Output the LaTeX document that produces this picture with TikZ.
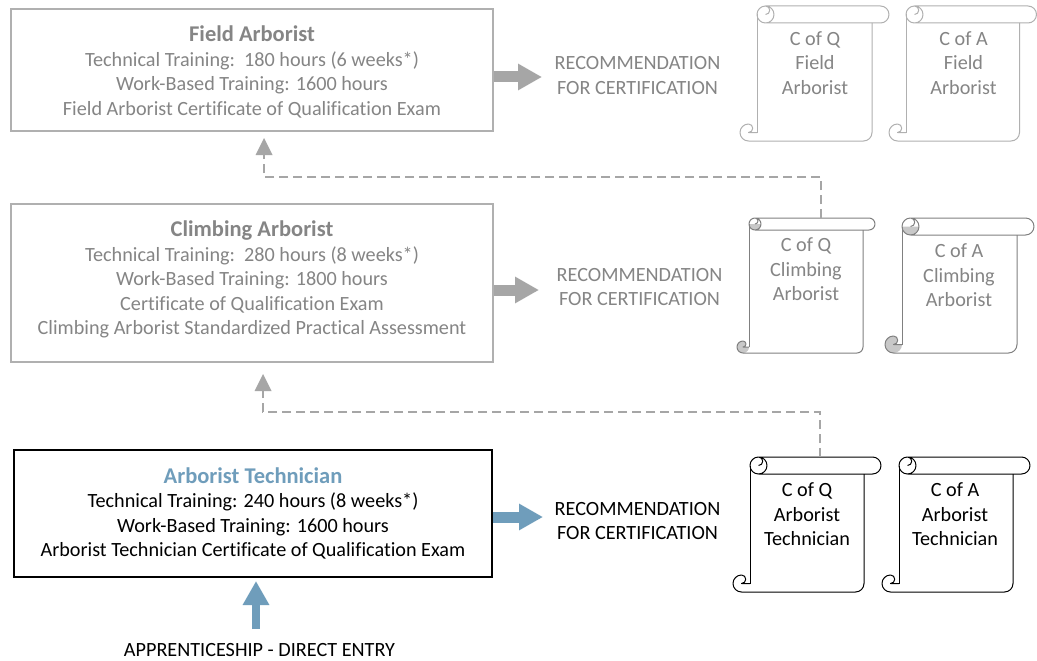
\documentclass[tikz,border=0pt]{standalone}
\usepackage{fontspec}
\setmainfont[Ligatures=NoCommon]{Carlito}
\usetikzlibrary{arrows.meta}
\definecolor{fieldline}{HTML}{B0B0B0}
\definecolor{climbline}{HTML}{808080}
\definecolor{curlfill}{HTML}{C8C8C8}
\definecolor{greytext}{HTML}{858585}
\definecolor{blocktip}{HTML}{A6A6A6}
\definecolor{techblue}{HTML}{6F9DBB}
\tikzset{
  x=1pt,y=-1pt,
  every node/.style={font=\fontsize{20.2pt}{24.4pt}\selectfont,inner sep=0pt,align=center},
  box/.style={draw=#1,line width=1.2pt,anchor=center},
  grey/.style={text=greytext},
  rec/.style={anchor=center},
  bigarrow/.style={draw=#1,line width=11pt,-{Triangle[length=24pt,width=25pt,fill=#1]},shorten >=0pt},
  dashlink/.style={draw=blocktip,line width=1.8pt,dash pattern=on 9pt off 5pt}
}
% \rollpaper{L}{R}{T}{B}{h}{line colour}{curl fill}
\newcommand{\rollpaper}[7]{%
  \pgfmathsetmacro{\rh}{#5/2}\pgfmathsetmacro{\qh}{#5/4}%
  \pgfmathsetmacro{\bl}{#1+#5}\pgfmathsetmacro{\br}{#2-#5}%
  \pgfmathsetmacro{\cx}{\bl+\rh}\pgfmathsetmacro{\ty}{#3+\rh}\pgfmathsetmacro{\tb}{#3+#5}%
  \pgfmathsetmacro{\ex}{#2-\rh}%
  \pgfmathsetmacro{\dx}{#1+\rh}\pgfmathsetmacro{\by}{#4-\rh}%
  % curl fills
  \fill[#7] (\bl,\ty) arc[start angle=180,end angle=360,radius=\rh pt]
     -- (\cx,\ty) -- cycle;
  \fill[#7] (\dx,#4) arc[start angle=270,end angle=90,radius=\rh pt]
     arc[start angle=90,end angle=-90,radius=\qh pt] -- (\bl,\by)
     arc[start angle=0,end angle=-90,radius=\rh pt] -- cycle;
  \draw[#6,line width=1pt,line join=round]
     (\cx,\tb) -- (\ex,\tb) arc[start angle=-90,end angle=90,radius=\rh pt]
     -- (\cx,#3) arc[start angle=90,end angle=270,radius=\rh pt]
     arc[start angle=-90,end angle=90,radius=\rh pt]
     arc[start angle=90,end angle=-90,radius=\qh pt];
  \draw[#6,line width=1pt,line join=round]
     (\bl,\ty) -- (\bl,\by);
  \draw[#6,line width=1pt,line join=round]
     (\br,\tb) -- (\br,\by) arc[start angle=0,end angle=-90,radius=\rh pt]
     -- (\dx,#4) arc[start angle=270,end angle=90,radius=\rh pt]
     arc[start angle=90,end angle=-90,radius=\qh pt] -- (\bl,\by);
}
\begin{document}
\begin{tikzpicture}
\useasboundingbox (0,0) rectangle (1037,661);
\fill[white] (0,0) rectangle (1037,661);

% programme boxes
\node[box=fieldline,grey,minimum width=482pt,minimum height=122pt] (field) at (252,70)
  {\rule{0pt}{19.5pt}\textbf{\fontsize{22.5pt}{24.4pt}\selectfont Field Arborist}\\
   Technical Training:~~180 hours (6 weeks*)\\
   Work-Based Training: 1600 hours\\
   Field Arborist Certificate of Qualification Exam};
\node[box=fieldline,grey,minimum width=482pt,minimum height=158pt] (climb) at (252,283)
  {\textbf{\fontsize{22.5pt}{24.4pt}\selectfont Climbing Arborist}\\
   Technical Training:~~280 hours (8 weeks*)\\
   Work-Based Training: 1800 hours\\
   Certificate of Qualification Exam\\
   Climbing Arborist Standardized Practical Assessment\\[-14pt]\mbox{}};
\node[box=black,minimum width=478pt,minimum height=127pt] (tech) at (253,513.5)
  {\textcolor{techblue}{\textbf{\fontsize{22.5pt}{24.4pt}\selectfont Arborist Technician}}\\
   Technical Training: 240 hours (8 weeks*)\\
   Work-Based Training: 1600 hours\\
   Arborist Technician Certificate of Qualification Exam};

% recommendation labels
\node[rec,grey] (recfield) at (637.5,75.5) {RECOMMENDATION\\FOR CERTIFICATION};
\node[rec,grey] (recclimb) at (639.5,287) {RECOMMENDATION\\FOR CERTIFICATION};
\node[rec] (rectech) at (637.5,521) {RECOMMENDATION\\FOR CERTIFICATION};
\node[rec] (direct) at (259.5,650) {APPRENTICESHIP - DIRECT ENTRY};

% block arrows
\coordinate (fa1) at (field.east|-0,77);
\coordinate (fa2) at (542,77);
\coordinate (ca1) at (climb.east|-0,290);
\coordinate (ca2) at (539,290);
\coordinate (ta1) at (tech.east|-0,517);
\coordinate (ta2) at (543,517);
\coordinate (ua1) at (256,629);
\coordinate (ua2) at (256,581);
\draw[bigarrow=blocktip] (fa1) -- (fa2);
\draw[bigarrow=blocktip] (ca1) -- (ca2);
\draw[bigarrow=techblue] (ta1) -- (ta2);
\draw[bigarrow=techblue,line width=8.5pt] (ua1) -- (ua2);

% scrolls
\rollpaper{740}{889}{6}{141}{17}{fieldline}{white}
\rollpaper{889}{1036.5}{6}{141}{17}{fieldline}{white}
\rollpaper{737}{875}{218}{353}{12}{climbline}{curlfill}
\rollpaper{885}{1034}{218}{353}{17}{climbline}{curlfill}
\rollpaper{733}{881}{457}{592}{17}{black}{white}
\rollpaper{882}{1030}{457}{592}{17}{black}{white}
\node[grey] (qfield) at (815,63) {C of Q\\Field\\Arborist};
\node[grey] (afield) at (963.5,63) {C of A\\Field\\Arborist};
\node[grey] (qclimb) at (806,269.5) {C of Q\\Climbing\\Arborist};
\node[grey] (aclimb) at (959,275.5) {C of A\\Climbing\\Arborist};
\node (qtech) at (807,514.5) {C of Q\\Arborist\\Technician};
\node (atech) at (955,514.5) {C of A\\Arborist\\Technician};

% dashed progression links
\coordinate (d1s) at (821,218);
\coordinate (d1c) at (821,177);
\coordinate (d1e) at (264,177);
\coordinate (d1b) at (264,155);
\coordinate (d1t) at (264,138);
\coordinate (d2s) at (820,457);
\coordinate (d2c) at (820,412);
\coordinate (d2e) at (263,412);
\coordinate (d2b) at (263,391);
\coordinate (d2t) at (263,374);
\draw[dashlink] (d1s) -- (d1c) -- (d1e) -- (d1b);
\draw[dashlink] (d2s) -- (d2c) -- (d2e) -- (d2b);
\fill[blocktip] (d1t) -- ([xshift=8.5pt]d1b) -- ([xshift=-8.5pt]d1b) -- cycle;
\fill[blocktip] (d2t) -- ([xshift=8.5pt]d2b) -- ([xshift=-8.5pt]d2b) -- cycle;
\end{tikzpicture}
\end{document}
